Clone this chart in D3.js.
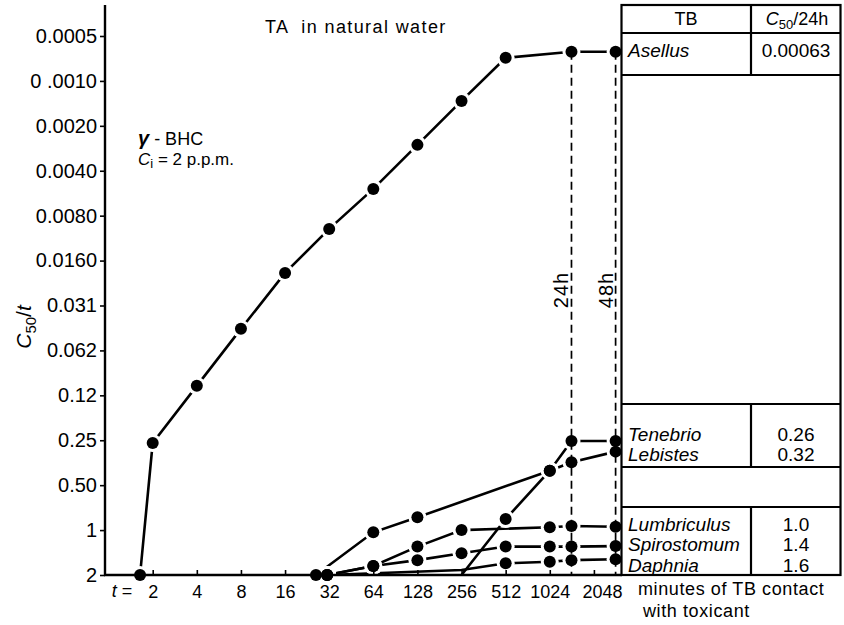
<!DOCTYPE html>
<html>
<head>
<meta charset="utf-8">
<script src="https://cdn.jsdelivr.net/npm/d3@7"></script>
<style>
body{margin:0;background:#fff;}
text{font-family:"Liberation Sans",Arial,sans-serif;fill:#000;}
</style>
</head>
<body>
<div id="chart"></div>
<script>
// minutes of contact (log2) against C50/t (log2, reversed)
var xTicks = [2,4,8,16,32,64,128,256,512,1024,2048];
var yTicks = [2,1,0.5,0.25,0.125,0.0625,0.03125,0.015625,0.0078125,0.00390625,0.001953125,0.0009765625,0.00048828125];
var yLabels = ["2","1","0.50","0.25","0.12","0.062","0.031","0.0160","0.0080","0.0040","0.0020","0 .0010","0.0005"];

// [t, C50/t, marker?]
var asellus = [[1.64,2,1],[2,0.261,1],[4,0.108,1],[8,0.0448,1],[16,0.0189,1],[32,0.00958,1],[64,0.00517,1],[128,0.00262,1],[256,0.00133,1],[512,0.000684,1],[1440,0.000623,1],[2880,0.000623,1]];
var tenebrio = [[256,2,0],[512,0.843,1],[1024,0.40,1],[1440,0.253,1],[2880,0.253,1]];
var lebistes = [[26,2,1],[64,1.035,1],[128,0.821,1],[1024,0.40,1],[1440,0.351,1],[2880,0.298,1]];
var lumbriculus = [[31,2,1],[64,1.74,1],[128,1.29,1],[256,1.0,1],[1024,0.958,1],[1440,0.939,1],[2880,0.95,1]];
var spirostomum = [[31,2,1],[64,1.74,1],[128,1.59,1],[256,1.43,1],[512,1.29,1],[1024,1.29,1],[1440,1.29,1],[2880,1.28,1]];
var daphnia = [[31,2,1],[256,1.85,0],[512,1.67,1],[1024,1.63,1],[1440,1.59,1],[2880,1.57,1]];
var allSeries = [asellus, tenebrio, lebistes, lumbriculus, spirostomum, daphnia];

var tbNames = ["Asellus","Tenebrio","Lebistes","Lumbriculus","Spirostomum","Daphnia"];
var tbValues = ["0.00063","0.26","0.32","1.0","1.4","1.6"];
var markTimes = [1440, 2880];
var markLabels = ["24h","48h"];

var svg = d3.select("#chart").append("svg")
            .attr("width", 844)
            .attr("height", 625)
            .style("background","#fff");

var x = d3.scaleLog().base(2).domain([2, 2048]).range([152.7, 593.9]);
var y = d3.scaleLog().base(2).domain([2, 2/4096]).range([575, 36]);

var line = d3.line()
             .x(function(d){ return x(d[0]); })
             .y(function(d){ return y(d[1]); });

// lines
svg.selectAll(".series").data(allSeries).enter().append("path")
   .attr("d", line)
   .attr("fill","none")
   .attr("stroke","#000")
   .attr("stroke-width", 2.6);

var pts = [];
allSeries.forEach(function(s){ s.forEach(function(p){ if (p[2]) pts.push(p); }); });

// white halo so lines stop short of the dots
svg.selectAll(".halo").data(pts).enter().append("circle")
   .attr("cx", function(d){ return x(d[0]); })
   .attr("cy", function(d){ return y(d[1]); })
   .attr("r", 9)
   .attr("fill","#fff");

// axes
var yAxis = svg.append("g")
   .attr("transform","translate(105,0)")
   .call(d3.axisLeft(y).tickValues(yTicks)
           .tickFormat(function(d,i){ return yLabels[i]; })
           .tickSize(5).tickPadding(3));
yAxis.select(".domain").remove();
yAxis.selectAll("line").attr("stroke-width",1.6);
yAxis.selectAll("text").style("font-size","20px").style("font-family",'"Liberation Sans",Arial,sans-serif');

var xAxis = svg.append("g")
   .attr("transform","translate(0,575)")
   .call(d3.axisBottom(x).tickValues(xTicks)
           .tickFormat(d3.format("d"))
           .tickSizeInner(-5).tickSizeOuter(0).tickPadding(10));
xAxis.select(".domain").remove();
xAxis.selectAll("line").attr("stroke-width",1.6);
xAxis.selectAll("text").style("font-size","18px").style("font-family",'"Liberation Sans",Arial,sans-serif');
xAxis.selectAll(".tick text").filter(function(d){ return d === 2048; }).attr("dx", 8);

svg.append("line").attr("x1",105).attr("y1",5).attr("x2",105).attr("y2",576)
   .attr("stroke","#000").attr("stroke-width",2.4);
svg.append("line").attr("x1",104).attr("y1",575).attr("x2",622).attr("y2",575)
   .attr("stroke","#000").attr("stroke-width",2.4);

// 24h / 48h dashed markers
svg.selectAll(".mark").data(markTimes).enter().append("line")
   .attr("x1", function(d){ return x(d); })
   .attr("x2", function(d){ return x(d); })
   .attr("y1", y(asellus[asellus.length-1][1]))
   .attr("y2", 575)
   .attr("stroke","#000")
   .attr("stroke-width",1.7)
   .attr("stroke-dasharray","8,5");

svg.selectAll(".markLabel").data(markLabels).enter().append("text")
   .attr("transform", function(d,i){ return "translate(" + (x(markTimes[i]) - 3) + ",290) rotate(-90)"; })
   .attr("text-anchor","middle")
   .style("font-size","20px")
   .style("letter-spacing","1px")
   .text(function(d){ return d; });

// dots
svg.selectAll(".dot").data(pts).enter().append("circle")
   .attr("cx", function(d){ return x(d[0]); })
   .attr("cy", function(d){ return y(d[1]); })
   .attr("r", 6)
   .attr("fill","#000");

// t =
var tl = svg.append("text").attr("x",122).attr("y",597).attr("text-anchor","middle").style("font-size","18px");
tl.append("tspan").style("font-style","italic").text("t");
tl.append("tspan").text(" =");

// y title
var yt = svg.append("text").attr("transform","translate(31,327) rotate(-90)")
            .attr("text-anchor","middle").style("font-size","21px");
yt.append("tspan").style("font-style","italic").text("C");
yt.append("tspan").attr("dy",5).style("font-size","15px").text("50");
yt.append("tspan").attr("dy",-5).text("/");
yt.append("tspan").style("font-style","italic").text("t");

// title and notes
svg.append("text").attr("x",265).attr("y",33)
   .style("font-size","18px").style("letter-spacing","1.4px").style("white-space","pre")
   .text("TA  in natural water");

var g1 = svg.append("text").attr("x",138).attr("y",145).style("font-size","18px");
g1.append("tspan").style("font-style","italic").style("font-weight","bold").style("font-size","20px").text("γ");
g1.append("tspan").text(" - BHC");
var g2 = svg.append("text").attr("x",138).attr("y",165).style("font-size","17px");
g2.append("tspan").style("font-style","italic").text("C");
g2.append("tspan").attr("dy",3).style("font-size","13px").text("i");
g2.append("tspan").attr("dy",-3).text(" = 2 p.p.m.");

// x title
svg.append("text").attr("x",638).attr("y",595).style("font-size","18px").style("letter-spacing","0.6px")
   .text("minutes of TB contact");
svg.append("text").attr("x",643).attr("y",617).style("font-size","18px").style("letter-spacing","0.6px")
   .text("with toxicant");

// table
var tb = svg.append("g");
tb.append("rect").attr("x",621.5).attr("y",5).attr("width",219).attr("height",570)
  .attr("fill","none").attr("stroke","#000").attr("stroke-width",2.2);
[33,75,404,467,507].forEach(function(hy){
  tb.append("line").attr("x1",621.5).attr("x2",840.5).attr("y1",hy).attr("y2",hy)
    .attr("stroke","#000").attr("stroke-width",2.2);
});
[[5,75],[404,467],[507,575]].forEach(function(seg){
  tb.append("line").attr("x1",751).attr("x2",751).attr("y1",seg[0]).attr("y2",seg[1])
    .attr("stroke","#000").attr("stroke-width",2.2);
});
tb.append("text").attr("x",686).attr("y",25).attr("text-anchor","middle").style("font-size","18px").text("TB");
var hd = tb.append("text").attr("x",797).attr("y",25).attr("text-anchor","middle").style("font-size","18px");
hd.append("tspan").style("font-style","italic").text("C");
hd.append("tspan").attr("dy",4).style("font-size","13px").text("50");
hd.append("tspan").attr("dy",-4).text("/24h");

var rowY = [57, 441, 461, 531, 551, 572];
tb.selectAll(".nm").data(tbNames).enter().append("text")
  .attr("x",628).attr("y",function(d,i){ return rowY[i]; })
  .style("font-size","19px").style("font-style","italic")
  .text(function(d){ return d; });
tb.selectAll(".vl").data(tbValues).enter().append("text")
  .attr("x",796).attr("y",function(d,i){ return rowY[i]; })
  .attr("text-anchor","middle")
  .style("font-size","19px")
  .text(function(d){ return d; });
</script>
</body>
</html>
